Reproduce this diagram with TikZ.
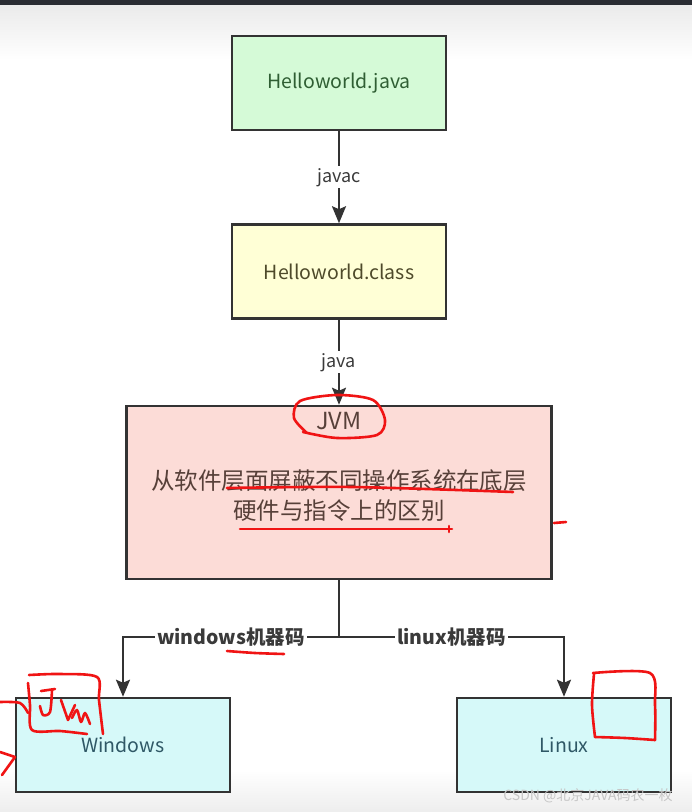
\documentclass[tikz,border=0pt]{standalone}
\usepackage{fontspec}
\setmainfont{Noto Sans CJK SC}
\usepackage{tikz}
\usetikzlibrary{
  arrows.meta,
  positioning,
  calc
}

\definecolor{bordacinza}{HTML}{333333}
\definecolor{barratopo}{HTML}{2A2C33}
\definecolor{verdeclaro}{HTML}{D5FAD7}
\definecolor{verdetexto}{HTML}{2F5E33}
\definecolor{amareloclaro}{HTML}{FFFFD6}
\definecolor{amarelotexto}{HTML}{4E4A2A}
\definecolor{rosaclaro}{HTML}{FCDCD7}
\definecolor{rosatexto}{HTML}{574039}
\definecolor{cianoclaro}{HTML}{D6F9F9}
\definecolor{cianotexto}{HTML}{2F5866}
\definecolor{cinzatexto}{HTML}{3A3A3A}
\definecolor{vermelho}{HTML}{F01414}

\begin{document}
\begin{tikzpicture}[
    x=1pt, y=1pt,
    >={Stealth[length=17pt,width=14pt,inset=3pt]},
    caixa/.style={
        draw=bordacinza,
        line width=2.5pt,
        minimum width=214pt,
        minimum height=94pt,
        inner sep=0pt,
        align=center,
        font=\fontsize{19.5}{23}\selectfont
    },
    rotulo/.style={
        fill=white,
        inner sep=2pt,
        text=cinzatexto,
        font=\fontsize{18}{22}\selectfont
    },
    rotulonegrito/.style={
        rotulo,
        font=\fontsize{19.5}{23}\selectfont\bfseries
    },
    seta/.style={
        ->,
        line width=2.2pt,
        bordacinza
    },
    tinta/.style={
        draw=vermelho,
        line width=2.6pt,
        line cap=round,
        line join=round
    }
]

% ============================================================
% FUNDO
% ============================================================

\useasboundingbox (0,0) rectangle (692,-812);
\fill[white] (0,0) rectangle (692,-812);
\shade[top color=gray!16, bottom color=white] (0,-5) rectangle (692,-60);
\shade[top color=white, bottom color=gray!14] (0,-770) rectangle (692,-812);
\fill[barratopo] (0,0) rectangle (692,-5);

% ============================================================
% CAIXAS
% ============================================================

\node[caixa, fill=verdeclaro, text=verdetexto] (java) at (339,-83) {Helloworld.java};
\node[caixa, fill=amareloclaro, text=amarelotexto, below=92pt of java] (classe) {Helloworld.class};
\node[caixa, fill=rosaclaro, minimum width=425pt, minimum height=173pt, below=85pt of classe] (jvm) {};
\node[text=rosatexto, inner sep=0pt, font=\fontsize{23.5}{30}\selectfont, below=7pt of jvm.north] (jvmnome) {JVM};
\node[text=rosatexto, inner sep=0pt, align=center, font=\fontsize{23.5}{30}\selectfont, below=40pt of jvmnome] (jvmnota) {从软件层面屏蔽不同操作系统在底层\\硬件与指令上的区别};
\node[caixa, fill=cianoclaro, text=cianotexto] (win) at (123,-745) {Windows};
\node[caixa, fill=cianoclaro, text=cianotexto] (lin) at (564,-745) {Linux};

% ============================================================
% SETAS
% ============================================================

\draw[seta] (java) -- node[rotulo] (javac) {javac} (classe);
\draw[seta] (classe) -- node[rotulo] (javarun) {java} (jvm);

\coordinate (divisao) at (339,-637);
\draw[line width=2.2pt, bordacinza] (jvm.south) -- (divisao);
\draw[seta] (divisao) -| node[rotulonegrito, pos=0.25] (codwin) {windows机器码} (win);
\draw[seta] (divisao) -| node[rotulonegrito, pos=0.25] (codlin) {linux机器码} (lin);

% ============================================================
% ANOTACOES A MAO
% ============================================================

\draw[tinta] plot[smooth] coordinates {(307,-433) (294,-418) (300,-401) (337,-395) (373,-400) (385,-420) (377,-435) (337,-438) (303,-432)};
\draw[tinta] plot[smooth] coordinates {(227,-488) (353,-487) (513,-492)};
\draw[tinta] (240,-529) -- (452,-529);
\draw[tinta] (449,-526) -- (449,-532);
\draw[tinta] (554,-523) -- (566,-522);
\draw[tinta] plot[smooth] coordinates {(227,-651) (255,-653) (284,-654)};

% rabisco na caixa Windows
\draw[tinta] plot[smooth] coordinates {(29,-675) (60,-674) (97,-677) (99,-700) (103,-734)};
\draw[tinta] plot[smooth] coordinates {(28,-683) (30,-705) (32,-730) (60,-731) (87,-734)};
\draw[tinta] (41,-691) -- (55,-689);
\draw[tinta] plot[smooth] coordinates {(52,-690) (50,-712) (43,-715) (40,-706)};
\draw[tinta] (61,-700) -- (68,-720) -- (75,-705);
\draw[tinta] plot[smooth] coordinates {(72,-718) (77,-710) (81,-722) (85,-713) (90,-724)};
\draw[tinta] plot[smooth] coordinates {(0,-702) (20,-703) (28,-713)};
\draw[tinta] (0,-752) -- (15,-757) -- (2,-775);

% rabisco na caixa Linux
\draw[tinta] plot[smooth] coordinates {(593,-673) (650,-673) (655,-705) (655,-740)};
\draw[tinta] plot[smooth] coordinates {(595,-737) (625,-738) (655,-740)};
\draw[tinta] plot[smooth] coordinates {(594,-674) (592,-705) (595,-737)};

% ============================================================
% MARCA D'AGUA
% ============================================================

\node[text=gray!45, font=\fontsize{14}{16}\selectfont] (marca) at (588,-796) {CSDN @北京JAVA码农一枚};

\end{tikzpicture}
\end{document}
